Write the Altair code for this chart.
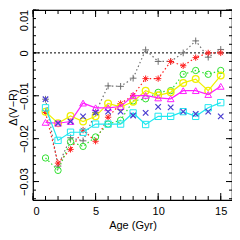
import altair as alt
import pandas as pd

ages = list(range(1, 16))
gray_vals = [-0.0108, -0.0264, -0.0198, -0.0205, -0.0139, -0.0077, -0.0078, -0.0059,
             0.0007, -0.0020, -0.0020, 0.0000, 0.0028, -0.0010, 0.0008]
red_vals = [-0.0139, -0.0257, -0.0225, -0.0180, -0.0206, -0.0150, -0.0118, -0.0099,
            -0.0060, -0.0060, -0.0020, -0.0030, -0.0011, 0.0000, 0.0000]
green_vals = [-0.0245, -0.0274, -0.0207, -0.0218, -0.0196, -0.0166, -0.0157, -0.0112,
              -0.0107, -0.0092, -0.0088, -0.0050, -0.0041, -0.0050, -0.0041]
yellow_vals = [-0.0137, -0.0164, -0.0147, -0.0160, -0.0148, -0.0118, -0.0126, -0.0114,
               -0.0088, -0.0099, -0.0092, -0.0070, -0.0061, -0.0088, -0.0053]
magenta_vals = [-0.0162, -0.0164, -0.0160, -0.0117, -0.0128, -0.0128, -0.0125, -0.0100,
                -0.0099, -0.0105, -0.0107, -0.0088, -0.0088, -0.0097, -0.0078]
cyan_vals = [-0.0128, -0.0204, -0.0185, -0.0185, -0.0166, -0.0166, -0.0166, -0.0140,
             -0.0167, -0.0148, -0.0148, -0.0137, -0.0148, -0.0128, -0.0116]
blue_vals = [-0.0108, -0.0164, -0.0160, -0.0148, -0.0139, -0.0137, -0.0137, -0.0146,
             -0.0140, -0.0126, -0.0127, -0.0137, -0.0142, -0.0137, -0.0148]

x_major = [0, 5, 10, 15]
x_minor = list(range(0, 16))
y_major = [-0.03, -0.02, -0.01, 0.0, 0.01]
y_minor = [round(-0.034 + 0.002 * i, 3) for i in range(23)]
zero_line = [0.0]

W, H = 199, 190
XDOM = [0, 15.9]
YDOM = [-0.0343, 0.01]
FONT = "Liberation Sans"

xscale = alt.Scale(domain=XDOM, nice=False, zero=False)
yscale = alt.Scale(domain=YDOM, nice=False, zero=False)

PLUS = "M-1,0L1,0M0,-1L0,1"
CROSS = "M-1,-1L1,1M-1,1L1,-1"
STAR = "M-1,0L1,0M0,-1L0,1M-0.7,-0.7L0.7,0.7M-0.7,0.7L0.7,-0.7"

xaxis = alt.Axis(values=x_major, ticks=False, domain=False, grid=False,
                 labelFont=FONT, labelFontSize=11, labelPadding=5, labelColor="black",
                 title="Age (Gyr)", titleFont=FONT, titleFontSize=11,
                 titleFontWeight="normal", titlePadding=3, titleColor="black")
yaxis = alt.Axis(values=y_major, ticks=False, domain=False, grid=False,
                 labelFont=FONT, labelFontSize=11, labelAngle=270, labelAlign="center",
                 labelBaseline="bottom", labelPadding=4, labelColor="black",
                 labelOffset={"condition": {"test": "datum.value > 0.005", "value": 10},
                              "value": 0},
                 labelExpr="datum.value == 0 ? '0' : format(datum.value, '.2f')",
                 title="Δ(V−R)", titleFont=FONT, titleFontSize=11, titleFontWeight="normal",
                 titleAngle=270, titleX=-15, titleY=H / 2 + 2, titleAlign="center",
                 titleBaseline="bottom", titleColor="black")

X = alt.X("age:Q", scale=xscale, axis=xaxis)
Y = alt.Y("d:Q", scale=yscale, axis=yaxis)


def series(vals):
    return pd.DataFrame({"age": ages, "d": vals})


layers = []

layers.append(alt.Chart(pd.DataFrame({"d": zero_line})).mark_rule(
    color="black", strokeDash=[2, 2], strokeWidth=1).encode(y=Y))

specs = [
    (gray_vals, "#707070", [1.5, 2.5], PLUS, 45, 1.0),
    (red_vals, "#ff2020", [1.5, 2.5], STAR, 40, 1.0),
    (green_vals, "#30e030", [1.5, 2.5], "circle", 40, 1.0),
    (yellow_vals, "#f0f000", None, "circle", 45, 1.3),
    (magenta_vals, "#ff20ff", None, "triangle-up", 45, 1.0),
    (cyan_vals, "#20e8f0", None, "square", 40, 1.0),
]

for vals, col, dash, shape, size, sw in specs:
    df = series(vals)
    lk = dict(color=col, strokeWidth=1.2)
    if dash:
        lk["strokeDash"] = dash
    layers.append(alt.Chart(df).mark_line(**lk).encode(x=X, y=Y))
    layers.append(alt.Chart(df).mark_point(shape=shape, filled=False, color=col,
                                           size=size, strokeWidth=sw, opacity=1).encode(x=X, y=Y))

layers.append(alt.Chart(series(blue_vals)).mark_point(
    shape=CROSS, filled=False, color="#4a3cd0", size=30, strokeWidth=1.2, opacity=1
).encode(x=X, y=Y))


def xticks(vals, length, top):
    df = pd.DataFrame({"age": vals})
    yv, y2v = (0, length) if top else (H, H - length)
    return alt.Chart(df).mark_rule(color="black", strokeWidth=1).encode(
        x=X, y=alt.value(yv), y2=alt.value(y2v))


def yticks(vals, length, right):
    df = pd.DataFrame({"d": vals})
    xv, x2v = (W, W - length) if right else (0, length)
    return alt.Chart(df).mark_rule(color="black", strokeWidth=1).encode(
        y=Y, x=alt.value(xv), x2=alt.value(x2v))


for top in (False, True):
    layers.append(xticks(x_minor, 4, top))
    layers.append(xticks(x_major, 7, top))
for right in (False, True):
    layers.append(yticks(y_minor, 3, right))
    layers.append(yticks(y_major, 6, right))

chart = alt.layer(*layers).properties(
    width=W, height=H,
    autosize=alt.AutoSizeParams(type="none"),
    padding={"left": 25, "top": 2, "right": 0, "bottom": 32},
    background="white",
).configure_view(stroke="black", strokeWidth=1.2)

chart.save("out.html", embed_options={"renderer": "svg", "actions": False})
